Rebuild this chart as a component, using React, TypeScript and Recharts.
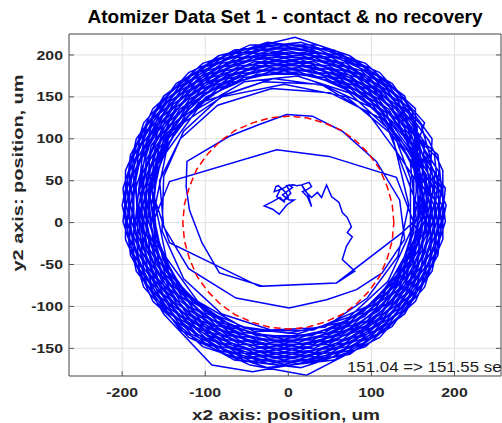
import { LineChart, Line, XAxis, YAxis, CartesianGrid } from "recharts"

const FONT = '"Liberation Sans", Arial, Helvetica, sans-serif'
const AXIS_COLOR = "#555555"
const TEXT_COLOR = "#262626"

const titleText = "Atomizer Data Set 1 - contact & no recovery"
const xLabel = "x2 axis: position, um"
const yLabel = "y2 axis: position, um"
const timeSpan = "151.04 => 151.55 sec"

const xTicks = [-200, -100, 0, 100, 200]
const yTicks = [-150, -100, -50, 0, 50, 100, 150, 200]

type Pt = [number, number]

// small wander near the centre, then the first excursion
const startScribble: Pt[] = [
  [-5, 38], [-12, 44], [-15, 43], [-17, 37], [-8, 40], [1, 45], [5, 42], [-7, 33], [1, 27], [7, 27],
  [-2, 21], [-11, 10], [-19, 16], [-29, 20], [-19, 25], [-10, 30], [-4, 24], [-14, 31], [-9, 41], [-3, 36],
  [0, 30], [-6, 26], [3, 35], [-2, 44], [6, 45], [10, 44], [16, 45], [25, 48], [28, 43], [22, 39],
  [17, 37], [23, 31], [28, 19], [24, 33], [16, 45], [20, 38], [28, 30], [35, 36], [40, 30], [46, 45],
  [52, 31], [61, 24], [65, 12], [71, 6], [76, -5], [71, -12], [77, -17], [70, -28], [65, -44], [80, -58],
  [58, -72],
]

// first, sparser loops inside the ring (with the chords across the middle)
const innerLoops: Pt[] = [
  [-31, -76], [-83, -60], [-104, -24], [-119, 15], [-123, 43], [-122, 73], [-71, 103], [-35, 117], [-2, 129], [29, 127],
  [65, 109], [106, 73], [134, 27], [140, -20], [113, -60], [82, -80], [46, -92], [1, -102], [-63, -90], [-120, -55],
  [-150, -5], [-155, 50], [-130, 100], [-85, 140], [-20, 160], [50, 155], [110, 125], [150, 70], [160, 10], [137, -12],
  [58, -72], [-35, -76], [-143, -24], [-165, 40], [-150, 100], [-100, 145], [-30, 168], [40, 165], [105, 135], [150, 80],
  [165, 15], [145, -50], [95, -100], [30, -128], [-40, -130], [-100, -105], [-145, -60], [-163, 0], [-143, 49], [-14, 87],
  [49, 79], [130, 54], [155, -10], [130, -75], [70, -118], [0, -132], [-70, -122], [-130, -80], [-160, -20], [-168, 45],
  [-140, 110], [-80, 150], [-5, 165], [70, 150], [125, 105],
]

// the dense orbit band, part 1
const ringLoops1: Pt[] = [
  [145, 21], [132, -40], [95, -90], [44, -125], [-21, -128], [-80, -109], [-126, -67], [-152, -10], [-150, 55], [-126, 109], [-80, 151], [-18, 172], [41, 164], [95, 132], [132, 82],
  [151, 54], [151, -12], [128, -70], [75, -118], [12, -138], [-54, -131], [-115, -95], [-151, -44], [-165, 21], [-151, 86], [-108, 143], [-54, 173], [12, 180], [75, 160], [124, 115],
  [164, 39], [157, -32], [118, -97], [64, -134], [-5, -149], [-74, -134], [-131, -93], [-167, -32], [-174, 39], [-152, 106], [-105, 159], [-40, 187], [30, 187], [95, 159], [142, 106],
  [161, 75], [169, 3], [147, -67], [98, -121], [31, -150], [-41, -150], [-108, -121], [-157, -67], [-179, 3], [-171, 75], [-135, 138], [-76, 181], [-5, 196], [66, 181], [125, 138],
  [175, 21], [160, -52], [115, -113], [51, -150], [-24, -158], [-95, -135], [-151, -85], [-181, -16], [-184, 62], [-151, 127], [-95, 177], [-24, 200], [51, 192], [115, 155], [160, 94],
  [176, 59], [176, -17], [145, -88], [88, -139], [14, -163], [-62, -155], [-129, -116], [-174, -54], [-190, 21], [-174, 96], [-129, 158], [-62, 197], [20, 203], [88, 181], [145, 130],
  [184, 41], [176, -38], [136, -106], [72, -153], [-5, -169], [-82, -153], [-146, -106], [-186, -38], [-194, 41], [-170, 116], [-117, 175], [-45, 207], [35, 207], [107, 175], [160, 116],
  [171, 78], [179, 2], [155, -72], [104, -129], [33, -160], [-43, -160], [-110, -133], [-165, -72], [-189, 2], [-181, 78], [-142, 145], [-80, 190], [-5, 206], [70, 190], [132, 145],
  [190, 21], [173, -58], [125, -124], [55, -164], [-25, -173], [-103, -148], [-163, -94], [-196, -20], [-196, 62], [-163, 136], [-103, 190], [-25, 215], [55, 206], [125, 166], [173, 100],
  [171, 58], [171, -16], [141, -85], [85, -135], [14, -158], [-61, -150], [-125, -113], [-170, -52], [-182, 25], [-170, 94], [-125, 155], [-61, 192], [14, 200], [85, 177], [141, 127],
  [169, 39], [161, -33], [125, -96], [66, -139], [-5, -154], [-76, -139], [-135, -96], [-171, -33], [-179, 39], [-157, 109], [-108, 163], [-41, 192], [31, 192], [102, 160], [147, 109],
  [176, 80], [184, 1], [160, -74], [107, -133], [35, -165], [-45, -165], [-117, -133], [-170, -74], [-194, 1], [-186, 80], [-146, 148], [-82, 195], [-5, 211], [72, 195], [136, 148],
]

// the dense orbit band, part 2
const ringLoops2: Pt[] = [
  [165, 21], [150, -48], [109, -105], [48, -141], [-23, -148], [-90, -126], [-143, -79], [-171, -14], [-171, 56], [-143, 121], [-90, 168], [-23, 190], [48, 183], [109, 147], [150, 90],
  [179, 40], [171, -36], [132, -103], [70, -148], [-5, -164], [-80, -148], [-142, -103], [-181, -36], [-189, 40], [-165, 114], [-114, 171], [-43, 202], [33, 202], [104, 171], [155, 114],
  [156, 55], [156, -13], [128, -76], [78, -122], [12, -143], [-56, -136], [-115, -102], [-156, -46], [-170, 21], [-156, 88], [-115, 144], [-56, 178], [12, 185], [78, 164], [128, 118],
  [166, 77], [174, 2], [151, -69], [101, -125], [32, -155], [-42, -155], [-111, -125], [-161, -69], [-184, 2], [-176, 77], [-139, 141], [-78, 186], [-5, 201], [68, 186], [129, 141],
  [181, 61], [181, -19], [149, -91], [90, -144], [15, -168], [-64, -160], [-132, -120], [-179, -56], [-195, 21], [-179, 98], [-132, 162], [-64, 202], [15, 210], [90, 186], [149, 133],
  [170, 21], [155, -50], [112, -109], [49, -145], [-23, -153], [-93, -131], [-147, -82], [-176, -15], [-176, 57], [-147, 124], [-93, 173], [-23, 195], [49, 187], [112, 151], [155, 92],
  [189, 41], [180, -39], [140, -109], [74, -157], [-43, -178], [-92, -170], [-150, -109], [-190, -39], [-199, 41], [-174, 119], [-120, 179], [-46, 212], [36, 212], [110, 179], [164, 119],
  [147, 70], [154, 4], [134, -59], [89, -108], [28, -135], [-38, -135], [-99, -108], [-144, -59], [-164, 4], [-157, 70], [-124, 128], [-70, 167], [-5, 181], [60, 167], [114, 128],
  [180, 21], [164, -54], [119, -116], [52, -155], [-24, -163], [-98, -139], [-155, -88], [-186, -17], [-186, 59], [-155, 130], [-98, 181], [-24, 205], [52, 197], [119, 158], [164, 96],
  [161, 56], [161, -14], [133, -79], [80, -126], [13, -148], [-58, -141], [-119, -105], [-160, -48], [-175, 21], [-160, 90], [-119, 147], [-58, 183], [13, 190], [80, 168], [133, 121],
  [180, 81], [189, 1], [164, -77], [110, -137], [22, -182], [-46, -170], [-120, -137], [-174, -77], [-199, 1], [-190, 81], [-150, 151], [-84, 199], [8, 221], [74, 199], [140, 151],
  [174, 40], [165, -35], [129, -99], [68, -144], [-5, -159], [-78, -144], [-139, -99], [-176, -35], [-184, 40], [-161, 111], [-111, 167], [-42, 197], [32, 197], [101, 167], [151, 111],
]

// the dense orbit band, part 3 (last revolutions of the window)
const ringLoops3: Pt[] = [
  [160, 21], [146, -46], [105, -102], [46, -136], [-22, -143], [-88, -122], [-138, -76], [-170, -8], [-166, 55], [-138, 118], [-88, 164], [-22, 185], [46, 178], [105, 144], [146, 88],
  [166, 57], [166, -15], [137, -82], [88, -128], [13, -153], [-59, -145], [-122, -109], [-165, -50], [-180, 21], [-165, 92], [-122, 151], [-59, 187], [13, 195], [83, 173], [137, 124],
  [159, 38], [152, -30], [118, -89], [62, -130], [-5, -144], [-72, -130], [-128, -89], [-162, -30], [-169, 38], [-148, 104], [-102, 154], [-39, 182], [29, 182], [92, 154], [138, 104],
  [157, 74], [164, 3], [142, -64], [95, -117], [30, -145], [-40, -145], [-105, -117], [-152, -64], [-174, 3], [-167, 74], [-131, 135], [-74, 176], [-5, 191], [64, 176], [121, 135],
  [185, 21], [169, -56], [122, -120], [54, -160], [-25, -168], [-100, -144], [-159, -91], [-191, -19], [-191, 61], [-159, 133], [-100, 186], [-25, 210], [60, 200], [122, 162], [169, 98],
  [186, 62], [186, -20], [153, -94], [93, -148], [15, -173], [-65, -164], [-130, -128], [-183, -58], [-200, 21], [-183, 100], [-135, 166], [-65, 206], [15, 215], [93, 190], [153, 136],
  [154, 38], [147, -28], [114, -86], [60, -125], [-5, -139], [-70, -125], [-124, -86], [-157, -28], [-164, 38], [-144, 101], [-99, 150], [-38, 177], [28, 177], [89, 150], [134, 101],
  [152, 72], [159, 4], [138, -62], [92, -112], [29, -140], [-39, -140], [-102, -112], [-148, -62], [-169, 4], [-162, 72], [-124, 136], [-72, 172], [-5, 186], [62, 172], [118, 131],
  [147, 53], [147, -11], [120, -70], [73, -113], [11, -133], [-53, -126], [-109, -94], [-147, -42], [-160, 21], [-147, 84], [-109, 136], [-53, 168], [11, 175], [73, 155], [120, 112],
  [155, 21], [141, -44], [102, -98], [44, -131], [-22, -138], [-85, -118], [-134, -73], [-161, -12], [-161, 54], [-134, 115], [-85, 160], [-22, 180], [44, 173], [102, 140], [141, 86],
]

// red dashed reference circle (r ~ 127)
const refCircle: Pt[] = [
  [127, 0], [125, 22], [119, 43], [110, 64], [97, 82], [82, 97], [64, 110], [43, 119], [22, 125], [0, 127],
  [-22, 125], [-43, 119], [-64, 110], [-82, 97], [-97, 82], [-110, 64], [-119, 43], [-125, 22], [-127, 0],
  [-125, -22], [-119, -43], [-110, -64], [-97, -82], [-82, -97], [-64, -110], [-43, -119], [-22, -125], [0, -127],
  [22, -125], [43, -119], [64, -110], [82, -97], [97, -82], [110, -64], [119, -43], [125, -22], [127, 0],
]

const toXY = (pts: Pt[]) => pts.map(([x, y]) => ({ x, y }))
const trace = toXY([...startScribble, ...innerLoops, ...ringLoops1, ...ringLoops2, ...ringLoops3])
const circle = toXY(refCircle)

const X_DOMAIN = [-264, 256]
const Y_DOMAIN = [-183, 225]

function LeftTick(props: any) {
  const { x, y, payload } = props
  return (
    <g>
      <line x1={x + 6} y1={y} x2={x + 11} y2={y} stroke={AXIS_COLOR} />
      <text
        transform={`translate(${x},${y + 4.6}) scale(1.22,1)`}
        textAnchor="end"
        fontFamily={FONT}
        fontWeight="bold"
        fontSize={13}
        fill={TEXT_COLOR}
      >
        {payload.value}
      </text>
    </g>
  )
}

function BottomTick(props: any) {
  const { x, y, payload } = props
  return (
    <g>
      <line x1={x} y1={y - 12} x2={x} y2={y - 17} stroke={AXIS_COLOR} />
      <text
        transform={`translate(${x},${y + 9}) scale(1.22,1)`}
        textAnchor="middle"
        fontFamily={FONT}
        fontWeight="bold"
        fontSize={13}
        fill={TEXT_COLOR}
      >
        {payload.value}
      </text>
    </g>
  )
}

function TopTick(props: any) {
  const { x, y } = props
  return <line x1={x} y1={y} x2={x} y2={y + 5} stroke={AXIS_COLOR} />
}

function RightTick(props: any) {
  const { x, y } = props
  return <line x1={x} y1={y} x2={x - 5} y2={y} stroke={AXIS_COLOR} />
}

export default function App() {
  return (
    <div
      style={{
        position: "absolute",
        left: 0,
        top: 0,
        width: 502,
        height: 423,
        overflow: "hidden",
        background: "#fff",
      }}
    >
      <LineChart width={502} height={423} margin={{ top: 33, right: 0, bottom: 0, left: 0 }}>
        <CartesianGrid stroke="#e0e0e0" />
        <XAxis
          type="number"
          dataKey="x"
          domain={X_DOMAIN}
          allowDataOverflow
          ticks={xTicks}
          interval={0}
          height={47}
          tickSize={0}
          tickMargin={12}
          tickLine={false}
          axisLine={{ stroke: AXIS_COLOR }}
          tick={BottomTick}
        />
        <XAxis
          xAxisId="top"
          orientation="top"
          type="number"
          domain={X_DOMAIN}
          allowDataOverflow
          ticks={xTicks}
          interval={0}
          height={1}
          tickSize={0}
          tickMargin={0}
          tickLine={false}
          axisLine={{ stroke: AXIS_COLOR }}
          tick={TopTick}
        />
        <YAxis
          type="number"
          dataKey="y"
          domain={Y_DOMAIN}
          allowDataOverflow
          ticks={yTicks}
          interval={0}
          width={69}
          tickSize={0}
          tickMargin={6}
          tickLine={false}
          axisLine={{ stroke: AXIS_COLOR }}
          tick={LeftTick}
        />
        <YAxis
          yAxisId="right"
          orientation="right"
          type="number"
          domain={Y_DOMAIN}
          allowDataOverflow
          ticks={yTicks}
          interval={0}
          width={1}
          tickSize={0}
          tickMargin={0}
          tickLine={false}
          axisLine={{ stroke: AXIS_COLOR }}
          tick={RightTick}
        />
        <Line
          data={trace}
          dataKey="y"
          type="linear"
          stroke="#0000ff"
          strokeWidth={1.5}
          dot={false}
          activeDot={false}
          isAnimationActive={false}
        />
        <Line
          data={circle}
          dataKey="y"
          type="linear"
          stroke="#ff0000"
          strokeWidth={1.5}
          strokeDasharray="7 4"
          dot={false}
          activeDot={false}
          isAnimationActive={false}
        />
      </LineChart>
      <svg
        width={502}
        height={423}
        style={{ position: "absolute", left: 0, top: 0, pointerEvents: "none" }}
      >
        <text
          x={285}
          y={23}
          textAnchor="middle"
          fontFamily={FONT}
          fontWeight="bold"
          fontSize={18.5}
          textLength={395}
          lengthAdjust="spacingAndGlyphs"
          fill="#000"
        >
          {titleText}
        </text>
        <text
          x={286}
          y={420}
          textAnchor="middle"
          fontFamily={FONT}
          fontWeight="bold"
          fontSize={15.5}
          textLength={188}
          lengthAdjust="spacingAndGlyphs"
          fill={TEXT_COLOR}
        >
          {xLabel}
        </text>
        <text
          transform="translate(23,173) rotate(-90)"
          textAnchor="middle"
          fontFamily={FONT}
          fontWeight="bold"
          fontSize={15.5}
          textLength={197}
          lengthAdjust="spacingAndGlyphs"
          fill={TEXT_COLOR}
        >
          {yLabel}
        </text>
        <text
          x={347}
          y={372}
          fontFamily={FONT}
          fontSize={14.5}
          textLength={163}
          lengthAdjust="spacingAndGlyphs"
          fill="#1a1a1a"
        >
          {timeSpan}
        </text>
      </svg>
    </div>
  )
}
